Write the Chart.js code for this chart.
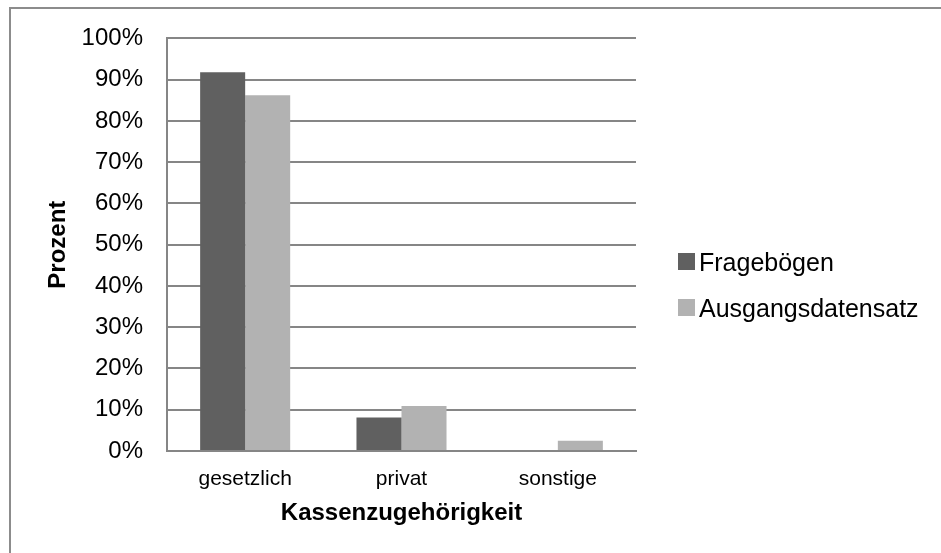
<!DOCTYPE html>
<html>
<head>
<meta charset="utf-8">
<script src="https://cdn.jsdelivr.net/npm/chart.js@4"></script>
<style>
  html, body { margin: 0; padding: 0; background: #fff; overflow: hidden; }
  #rahmen {
    position: absolute; left: 9px; top: 7px; width: 1000px; height: 600px;
    border: 2px solid #8c8c8c; box-sizing: border-box;
  }
  #chart { position: absolute; left: 0; top: 0; }
</style>
</head>
<body>
<div id="rahmen"></div>
<canvas id="chart" width="941" height="553"></canvas>
<script>
// Daten
const kategorien = ['gesetzlich', 'privat', 'sonstige'];
const frageboegen = [91.8, 8.1, 0];
const ausgangsdatensatz = [86.2, 10.9, 2.5];
const serienNamen = ['Fragebögen', 'Ausgangsdatensatz'];
const farben = ['#606060', '#b2b2b2'];

// Legende selbst zeichnen (rechts neben dem Diagramm)
const legendePlugin = {
  id: 'legende',
  afterDraw(chart) {
    const ctx = chart.ctx;
    ctx.save();
    ctx.font = '25px "Liberation Sans", Arial, sans-serif';
    ctx.textBaseline = 'alphabetic';
    ctx.textAlign = 'left';
    chart.data.datasets.forEach((ds, i) => {
      const baseline = 271 + i * 46;
      ctx.fillStyle = ds.backgroundColor;
      ctx.fillRect(678, baseline - 18, 17, 17);
      ctx.fillStyle = '#000';
      ctx.fillText(ds.label, 699, baseline);
    });
    ctx.restore();
  }
};

new Chart(document.getElementById('chart'), {
  type: 'bar',
  data: {
    labels: kategorien,
    datasets: [
      { label: serienNamen[0], data: frageboegen, backgroundColor: farben[0] },
      { label: serienNamen[1], data: ausgangsdatensatz, backgroundColor: farben[1] }
    ]
  },
  options: {
    responsive: false,
    animation: false,
    events: [],
    layout: { padding: { left: 0, top: 34, right: 305, bottom: 0 } },
    datasets: {
      bar: { categoryPercentage: 0.576, barPercentage: 1 }
    },
    plugins: {
      legend: { display: false },
      tooltip: { enabled: false }
    },
    scales: {
      x: {
        afterFit(scale) { scale.height = 102; },
        grid: { display: false, drawTicks: false },
        border: { display: true, color: '#868686', width: 2 },
        ticks: {
          color: '#000',
          padding: 16,
          font: { family: '"Liberation Sans", Arial, sans-serif', size: 21 }
        },
        title: {
          display: true,
          text: 'Kassenzugehörigkeit',
          color: '#000',
          padding: { top: 0, bottom: 25 },
          font: { family: '"Liberation Sans", Arial, sans-serif', size: 24, weight: 'bold' }
        }
      },
      y: {
        min: 0,
        max: 100,
        afterFit(scale) { scale.width = 167; },
        grid: { color: '#868686', lineWidth: 2, drawTicks: false },
        border: { display: true, color: '#868686', width: 2 },
        ticks: {
          stepSize: 10,
          color: '#000',
          padding: 24,
          callback: v => v + '%',
          font: { family: '"Liberation Sans", Arial, sans-serif', size: 24 }
        },
        title: {
          display: true,
          text: 'Prozent',
          color: '#000',
          padding: { top: 44, bottom: 0 },
          font: { family: '"Liberation Sans", Arial, sans-serif', size: 24, weight: 'bold' }
        }
      }
    }
  },
  plugins: [legendePlugin]
});
</script>
</body>
</html>
